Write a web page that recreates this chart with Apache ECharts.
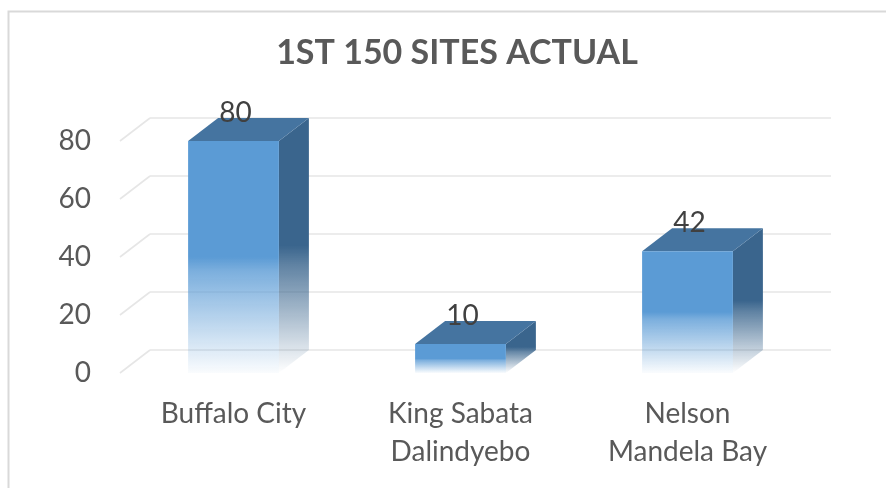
<!DOCTYPE html>
<html>
<head>
<meta charset="utf-8">
<script src="https://cdn.jsdelivr.net/npm/echarts@6/dist/echarts.min.js"></script>
<style>
  html, body { margin: 0; padding: 0; background: #fff; }
  #grafico { width: 886px; height: 488px; }
</style>
</head>
<body>
<div id="grafico"></div>
<script>
const categories = ['Buffalo City', 'King Sabata\nDalindyebo', 'Nelson\nMandela Bay'];
const siteCounts = [80, 10, 42];
const yTicks = [0, 20, 40, 60, 80];

// profundidade do efeito 3D
const DX = 30;
const DY = 23;
const FONTE = 'Lato, "Open Sans", sans-serif';

function desenharGrade(params, api) {
    const cs = params.coordSys;
    const y = api.coord([0, api.value(1)])[1];
    const estilo = { stroke: '#e6e6e6', lineWidth: 1.6 };
    return {
        type: 'group',
        children: [
            { type: 'line', shape: { x1: cs.x, y1: y, x2: cs.x + DX, y2: y - DY }, style: estilo },
            { type: 'line', shape: { x1: cs.x + DX, y1: y - DY, x2: cs.x + cs.width + DX, y2: y - DY }, style: estilo }
        ]
    };
}

function desenharBarra(params, api) {
    const i = api.value(0);
    const v = api.value(1);
    const topo = api.coord([i, v]);
    const base = api.coord([i, 0]);
    const w = api.size([1, 0])[0] * 0.4;
    const x0 = topo[0] - w / 2, x1 = topo[0] + w / 2;
    const yT = topo[1], yB = base[1];
    const frente = new echarts.graphic.LinearGradient(0, 0, 0, 1, [
        { offset: 0, color: 'rgba(91,155,213,1)' },
        { offset: 0.5, color: 'rgba(91,155,213,1)' },
        { offset: 0.56, color: 'rgba(91,155,213,0.8)' },
        { offset: 1, color: 'rgba(91,155,213,0.03)' }
    ]);
    const lado = new echarts.graphic.LinearGradient(0, 0, 0, 1, [
        { offset: 0, color: 'rgba(58,101,141,1)' },
        { offset: 0.5, color: 'rgba(58,101,141,1)' },
        { offset: 0.58, color: 'rgba(58,101,141,0.8)' },
        { offset: 1, color: 'rgba(58,101,141,0)' }
    ]);
    return {
        type: 'group',
        children: [
            { type: 'polygon', shape: { points: [[x1, yT], [x1 + DX, yT - DY], [x1 + DX, yB - DY], [x1, yB]] }, style: { fill: lado } },
            { type: 'polygon', shape: { points: [[x0, yT], [x0 + DX, yT - DY], [x1 + DX, yT - DY], [x1, yT]] }, style: { fill: '#4574a0' } },
            { type: 'rect', shape: { x: x0, y: yT, width: w, height: yB - yT }, style: { fill: frente } },
            { type: 'text', x: topo[0] + 2, y: yT - 28, style: { text: String(v), fontSize: 28, fontFamily: FONTE, fill: '#404040', align: 'center', verticalAlign: 'middle' } }
        ]
    };
}

function desenharGrafico() {
    const el = document.getElementById('grafico');
    const chart = echarts.init(el, null, { renderer: 'canvas' });
    const option = {
        animation: false,
        title: {
            text: '1ST 150 SITES ACTUAL',
            left: 452, top: 31, textAlign: 'center',
            textStyle: { fontSize: 34, fontWeight: 'bold', fontFamily: FONTE, color: '#595959' }
        },
        graphic: [{
            type: 'rect', left: 6, top: 9,
            shape: { width: 900, height: 500 },
            style: { fill: 'none', stroke: '#d9d9d9', lineWidth: 2 }
        }],
        grid: { left: 120, right: 85, top: 141, bottom: 115 },
        xAxis: {
            type: 'category',
            data: categories,
            axisLine: { show: false },
            axisTick: { show: false },
            axisLabel: { fontSize: 28, fontFamily: FONTE, color: '#595959', lineHeight: 38, margin: 22 }
        },
        yAxis: {
            type: 'value',
            min: 0, max: 80, interval: 20,
            splitLine: { show: false },
            axisLabel: { fontSize: 28, fontFamily: FONTE, color: '#595959', margin: 29 }
        },
        series: [{
            type: 'custom',
            silent: true,
            clip: false,
            z: 1,
            renderItem: desenharGrade,
            encode: { x: 0, y: 1 },
            data: yTicks.map(t => [0, t])
        }, {
            type: 'custom',
            clip: false,
            z: 2,
            renderItem: desenharBarra,
            encode: { x: 0, y: 1 },
            data: siteCounts.map((v, i) => [i, v])
        }]
    };
    chart.setOption(option);
}

window.onload = () => {
    desenharGrafico();
};
</script>
</body>
</html>
